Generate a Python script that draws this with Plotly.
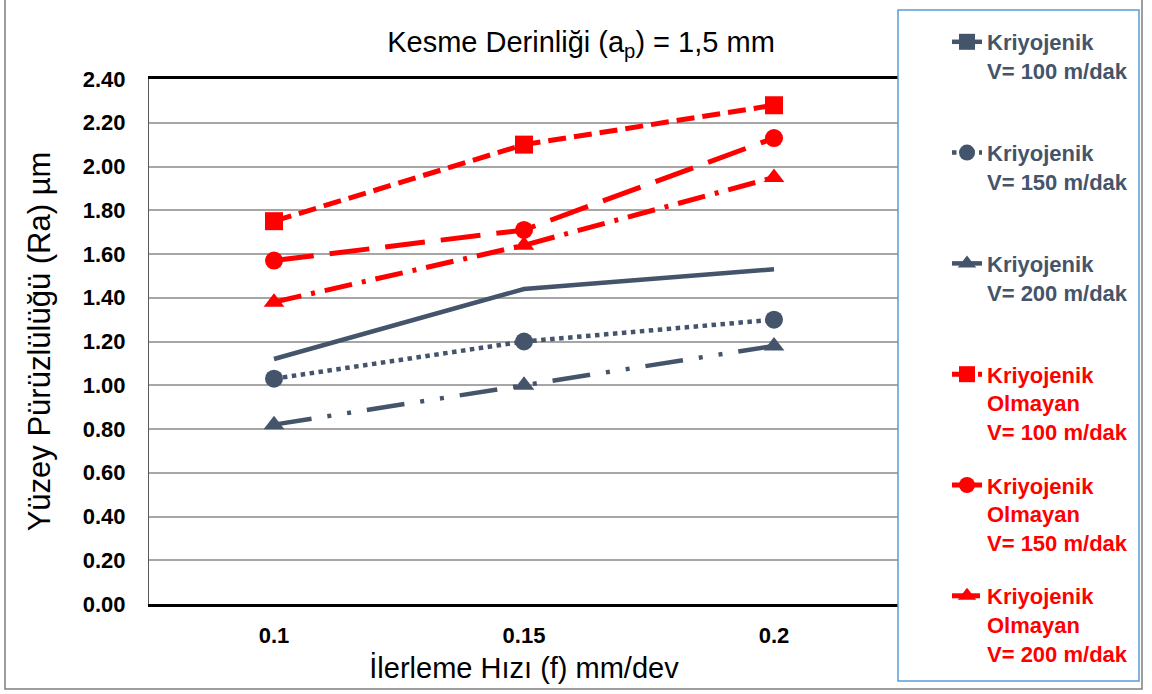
import plotly.graph_objects as go

# feed rate (mm/dev) categories
feed = ["0.1", "0.15", "0.2"]

# surface roughness Ra (µm)
kriyo_100 = [1.12, 1.44, 1.53]
kriyo_150 = [1.03, 1.20, 1.30]
kriyo_200 = [0.82, 1.00, 1.18]
kuru_100 = [1.75, 2.10, 2.28]
kuru_150 = [1.57, 1.71, 2.13]
kuru_200 = [1.38, 1.64, 1.95]

y_ticks = [0, 0.2, 0.4, 0.6, 0.8, 1.0, 1.2, 1.4, 1.6, 1.8, 2.0, 2.2, 2.4]

GRAY = "#44546A"
RED = "#FF0000"
FONT = "Liberation Sans, Arial, sans-serif"

# plot area in pixels (used for paper coords of frame / legend box)
L, R, T, B = 149, 899, 79, 604


def px_x(p):
    return (p - L) / (R - L)


def px_y(p):
    return (B - p) / (B - T)


def lbl(text, color, extra_line=False):
    s = f"<span style='color:{color}'><b>{text}</b></span>"
    if extra_line:
        s += "<br>\u00a0"
    return s


series = [
    # name, values, color, dash, symbol, show markers in plot, 2-line label
    ("Kriyojenik<br>V= 100 m/dak", kriyo_100, GRAY, "solid", "square", False, True),
    ("Kriyojenik<br>V= 150 m/dak", kriyo_150, GRAY, "dot", "circle", True, True),
    ("Kriyojenik<br>V= 200 m/dak", kriyo_200, GRAY, "38px,16px,4px,16px,4px,16px", "triangle-up", True, True),
    ("Kriyojenik<br>Olmayan<br>V= 100 m/dak", kuru_100, RED, "18px,8px", "square", True, False),
    ("Kriyojenik<br>Olmayan<br>V= 150 m/dak", kuru_150, RED, "40px,16px", "circle", True, False),
    ("Kriyojenik<br>Olmayan<br>V= 200 m/dak", kuru_200, RED, "28px,10px,4px,10px", "triangle-up", True, False),
]

fig = go.Figure()
for i, (name, vals, color, dash, sym, mk, short) in enumerate(series):
    grp = f"g{i}"
    line = dict(color=color, width=4.5 if color == GRAY else 5, dash=dash)
    marker = dict(symbol=sym, size=18, color=color)
    if mk:
        fig.add_trace(go.Scatter(
            x=feed, y=vals, mode="lines+markers", line=line, marker=marker,
            name=lbl(name, color, short), legendgroup=grp,
        ))
    else:
        fig.add_trace(go.Scatter(
            x=feed, y=vals, mode="lines", line=line,
            legendgroup=grp, showlegend=False, name=name,
        ))
        # legend key only (line with marker, as in the original legend)
        fig.add_trace(go.Scatter(
            x=[None], y=[None], mode="lines+markers", line=line, marker=marker,
            name=lbl(name, color, short), legendgroup=grp,
        ))

fig.update_layout(
    width=1152,
    height=694,
    margin=dict(l=L, r=1152 - R, t=T, b=694 - B),
    paper_bgcolor="white",
    plot_bgcolor="white",
    font=dict(family=FONT, color="black"),
    title=dict(
        text="Kesme Derinliği (a<sub>p</sub>) = 1,5 mm",
        x=px_x(581), xref="paper", xanchor="center",
        y=1 - 42 / 694, yanchor="middle",
        font=dict(size=29, family=FONT, color="black"),
    ),
    xaxis=dict(
        type="category",
        categoryorder="array",
        categoryarray=feed,
        range=[-0.5, 2.5],
        showgrid=False,
        showline=True,
        linecolor="black",
        linewidth=2.5,
        mirror=True,
        ticks="",
        ticklabelstandoff=10,
        tickfont=dict(size=22, family=FONT, color="black", weight="bold"),
        title=dict(text="İlerleme Hızı (f) mm/dev", font=dict(size=29, family=FONT), standoff=11),
        zeroline=False,
    ),
    yaxis=dict(
        range=[0, 2.4],
        tickvals=y_ticks,
        tickformat=".2f",
        showgrid=True,
        gridcolor="#A6A6A6",
        gridwidth=1.5,
        showline=True,
        linecolor="#595959",
        linewidth=1,
        ticks="",
        ticklabelstandoff=18,
        tickfont=dict(size=22, family=FONT, color="black", weight="bold"),
        title=dict(text="Yüzey Pürüzlülüğü (Ra) µm", font=dict(size=31, family=FONT), standoff=22),
        zeroline=False,
    ),
    legend=dict(
        x=px_x(947), xanchor="left",
        y=px_y(21), yanchor="top",
        bgcolor="rgba(0,0,0,0)",
        borderwidth=0,
        font=dict(size=22, family=FONT, color=GRAY),
        valign="top",
        tracegroupgap=22,
        traceorder="grouped",
        maxheight=700,
    ),
    shapes=[
        # outer chart frame
        dict(type="rect", xref="paper", yref="paper",
             x0=px_x(5), x1=px_x(1142), y0=px_y(689), y1=px_y(-5),
             line=dict(color="#7F7F7F", width=1.5), layer="below"),
        # legend box
        dict(type="rect", xref="paper", yref="paper",
             x0=px_x(898), x1=px_x(1139), y0=px_y(681), y1=px_y(10),
             line=dict(color="#5B9BD5", width=1.5), fillcolor="white", layer="above"),
    ],
)

fig.write_html(
    "out.html",
    config={"displayModeBar": False},
    post_script="document.body.style.margin='0px';",
)
